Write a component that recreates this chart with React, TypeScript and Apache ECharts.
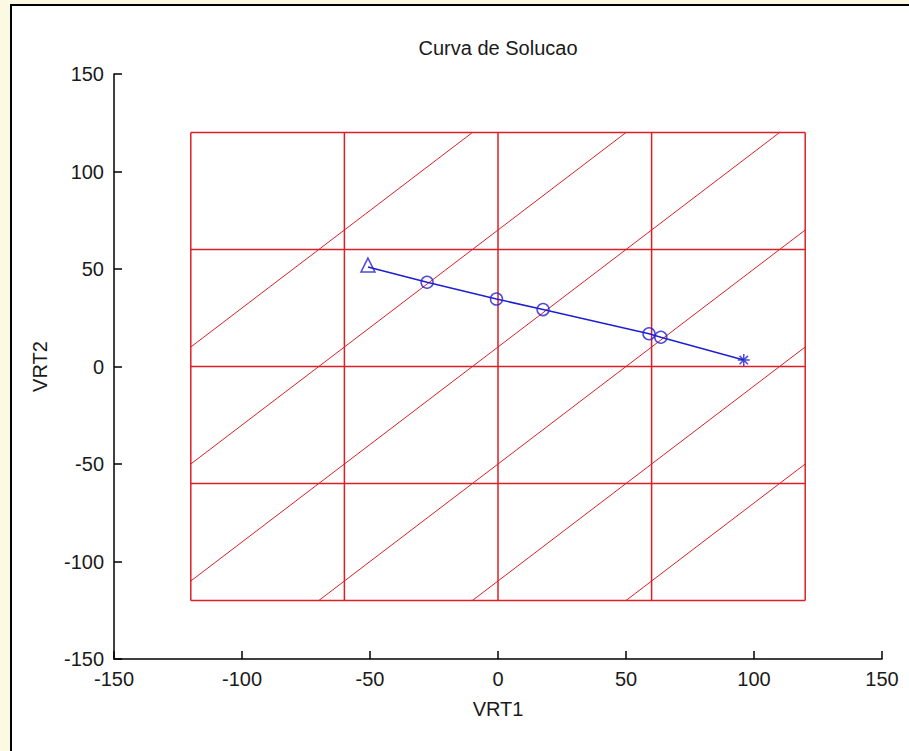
import React, { useEffect, useRef } from "react";
import * as echarts from "echarts";

// ---- data ----
const axisTicks = [-150, -100, -50, 0, 50, 100, 150];
const boxBound = 120;
const gridVertical = [-120, -60, 0, 60, 120];
const gridHorizontal = [-120, -60, 0, 60, 120];
const diagonalOffsets = [130, 70, 10, -50, -110, -170]; // lines y = x + c
const solutionX = [-50.8, -27.7, -0.6, 17.6, 59, 63.6, 96];
const solutionY = [51, 43.2, 34.6, 29.2, 16.8, 15, 3.3];

const RED = "#dc1f26";
const BLUE = "#1f1fcf";
const TEXT = "#1a1a1a";
const FONT = "'Liberation Sans', Arial, sans-serif";

function diagSegment(c: number, b: number): number[][] | null {
  const x1 = Math.max(-b, -b - c);
  const x2 = Math.min(b, b - c);
  if (x2 <= x1) return null;
  return [
    [x1, x1 + c],
    [x2, x2 + c],
  ];
}

export default function App() {
  const ref = useRef<HTMLDivElement>(null);

  useEffect(() => {
    document.body.style.margin = "0";
    if (!ref.current) return;
    const chart = echarts.init(ref.current, null, { renderer: "svg" });

    const redLine = (data: number[][], width: number) => ({
      type: "line",
      data,
      symbol: "none",
      silent: true,
      lineStyle: { color: RED, width },
      z: 2,
    });

    const series: any[] = [];
    gridVertical.forEach((x) =>
      series.push(redLine([[x, -boxBound], [x, boxBound]], 1.5))
    );
    gridHorizontal.forEach((y) =>
      series.push(redLine([[-boxBound, y], [boxBound, y]], 1.5))
    );
    diagonalOffsets.forEach((c) => {
      const seg = diagSegment(c, boxBound);
      if (seg) series.push(redLine(seg, 1));
    });

    const pts = solutionX.map((x, i) => [x, solutionY[i]]);
    series.push({
      type: "line",
      data: pts,
      symbol: "none",
      lineStyle: { color: BLUE, width: 1.5 },
      z: 5,
    });
    series.push({
      type: "scatter",
      data: pts.slice(1, -1),
      symbol: "circle",
      symbolSize: 12,
      itemStyle: { color: "none", borderColor: BLUE, borderWidth: 1.5 },
      z: 6,
    });
    series.push({
      type: "scatter",
      data: [pts[0]],
      symbol: "triangle",
      symbolSize: 14,
      symbolOffset: [0, -2],
      itemStyle: { color: "none", borderColor: BLUE, borderWidth: 1.5 },
      z: 6,
    });
    series.push({
      type: "scatter",
      data: [pts[pts.length - 1]],
      symbol:
        "path://M0,-6L0,6M-6,0L6,0M-4.2,-4.2L4.2,4.2M-4.2,4.2L4.2,-4.2",
      symbolSize: 12,
      itemStyle: { color: "none", borderColor: BLUE, borderWidth: 1.5 },
      z: 6,
    });

    const axisCommon = {
      type: "value",
      min: axisTicks[0],
      max: axisTicks[axisTicks.length - 1],
      interval: 50,
      splitLine: { show: false },
      axisLine: { show: true, onZero: false, lineStyle: { color: "#000", width: 1.5 } },
      axisTick: { show: true, inside: true, length: 8, lineStyle: { color: "#000", width: 1.5 } },
      axisLabel: { color: TEXT, fontSize: 20, fontFamily: FONT },
      nameLocation: "middle",
      nameTextStyle: { color: TEXT, fontSize: 20, fontFamily: FONT },
    };

    chart.setOption({
      animation: false,
      backgroundColor: "transparent",
      grid: { left: 114, right: 27, top: 74, bottom: 92, containLabel: false },
      xAxis: { ...axisCommon, name: "VRT1", nameGap: 40, axisLabel: { ...axisCommon.axisLabel, margin: 10 } },
      yAxis: { ...axisCommon, name: "VRT2", nameGap: 64, axisLabel: { ...axisCommon.axisLabel, margin: 10 } },
      graphic: [
        {
          type: "text",
          x: 498,
          y: 48,
          style: {
            text: "Curva de Solucao",
            fill: TEXT,
            font: `20px ${FONT}`,
            textAlign: "center",
            textVerticalAlign: "middle",
          },
        },
      ],
      series,
    });

    return () => chart.dispose();
  }, []);

  return (
    <div
      style={{
        position: "fixed",
        left: 0,
        top: 0,
        width: 909,
        height: 751,
        background: "#fcf9e2",
        overflow: "hidden",
      }}
    >
      <div
        style={{
          position: "absolute",
          left: 10,
          top: 4,
          width: 960,
          height: 800,
          background: "#ffffff",
          border: "2px solid #000",
        }}
      />
      <div
        ref={ref}
        style={{ position: "absolute", left: 0, top: 0, width: 909, height: 751 }}
      />
    </div>
  );
}
